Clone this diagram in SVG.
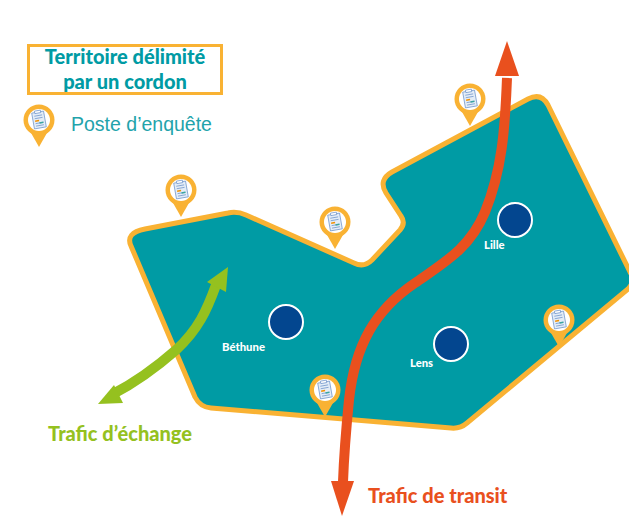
<svg xmlns="http://www.w3.org/2000/svg" width="629" height="518" viewBox="0 0 629 518">
<style>
.b{font-family:"Lato","Open Sans",sans-serif;font-weight:900}
.c{font-size:11.300px;fill:#fff;font-family:"Lato","Open Sans",sans-serif;font-weight:900}
.v{fill:#03468f;stroke:#fff;stroke-width:2}
.h{font-size:20px}
</style>
<defs>
<g id="pin">
<path d="M-8.500-15L0 0L8.500-15Z" fill="#f9b233"/>
<circle cy="-27" r="15.500" fill="#f9b233"/>
<circle cy="-27" r="11" fill="#fff"/>
<g transform="translate(0 -27) rotate(-10)" fill="none" stroke="#6a90c8" stroke-width="0.700">
<rect x="-6" y="-8" width="12" height="16" fill="#e4edf7"/>
<rect x="-3" y="-9.500" width="6" height="2.500" fill="#fff"/>
<path d="M-4-4.500H4M-4-2H4M-4 3H4M-4 5.500H4"/>
<path d="M-4 .5H0" stroke="#f39200" stroke-width="1.500"/>
<path d="M0 3H4" stroke="#3aa6a0" stroke-width="1.500"/>
</g>
</g>
</defs>
<rect width="629" height="518" fill="#fff"/>
<g id="territoire">
<path d="M145 229L228 213Q237 211 246 215L354 263Q364 268 372 260L400 230Q406 223 401 216L386 193Q378 180 392 172L528 99Q541 92 548 105L630 272Q636 281 628 289L467 423Q460 429 451 428L211 408Q200 407 195 397L131 246Q125 233 145 229Z" fill="#009ba4" stroke="#f9b233" stroke-width="5" stroke-linejoin="round"/>
</g>
<g id="legende">
<rect x="28.500" y="45.500" width="193" height="48" fill="#fff" stroke="#f9b233" stroke-width="3"/>
<text class="b h" x="125" y="64" text-anchor="middle" fill="#009ba4">Territoire délimité</text>
<text class="b h" x="125" y="89" text-anchor="middle" fill="#009ba4">par un cordon</text>
<use href="#pin" x="39" y="147"/>
<text x="71" y="131" font-family="'Liberation Sans',sans-serif" font-size="19.500" fill="#22a3ab">Poste d’enquête</text>
</g>
<g id="poste-1"><use href="#pin" x="181" y="217"/></g>
<g id="poste-2"><use href="#pin" x="335" y="249"/></g>
<g id="poste-3"><use href="#pin" x="470" y="126"/></g>
<g id="poste-4"><use href="#pin" x="559" y="347"/></g>
<g id="poste-5"><use href="#pin" x="325" y="417"/></g>
<g id="lille"><circle class="v" cx="515" cy="220" r="17"/><text class="c" x="484" y="249">Lille</text></g>
<g id="bethune"><circle class="v" cx="286" cy="322" r="17"/><text class="c" x="222" y="351">Béthune</text></g>
<g id="lens"><circle class="v" cx="451" cy="344" r="17"/><text class="c" x="410" y="367">Lens</text></g>
<g id="connecteurs">
<path d="M507 78C505 130 502 170 485 212C470 248 445 262 415 283C375 310 355 345 349 400C346 430 344 455 343 482" fill="none" stroke="#e9501e" stroke-width="10"/>
<path d="M495 76H519L507 41Z" fill="#e9501e"/>
<path d="M331 481H354L342 516Z" fill="#e9501e"/>
<path d="M216 285C207 310 198 330 176 350C160 364 140 380 113 394" fill="none" stroke="#95c11f" stroke-width="10"/>
<path d="M228 267L207 282L226 292Z" fill="#95c11f"/>
<path d="M98 404L114 385L123 403Z" fill="#95c11f"/>
</g>
<text class="b h" x="48" y="441" fill="#95c11f">Trafic d’échange</text>
<text class="b h" x="368" y="503" fill="#e9501e">Trafic de transit</text>
</svg>
